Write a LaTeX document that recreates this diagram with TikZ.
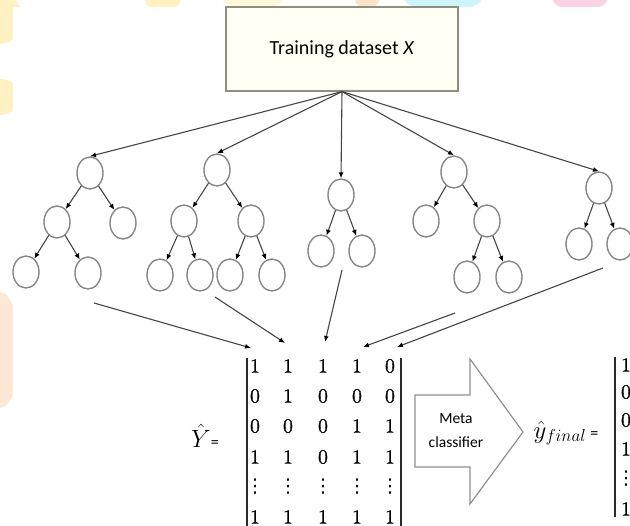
\documentclass[tikz,border=0pt]{standalone}
\usepackage{fontspec}
\newfontfamily\calib{Carlito}
\newfontfamily\digitfont{lmroman10-regular.otf}[FakeBold=0.8]
\newfontfamily\dotfont{DejaVu Sans}
\usetikzlibrary{shapes.geometric,arrows.meta}

\definecolor{circgray}{HTML}{878787}
\definecolor{edgegray}{HTML}{454545}
\definecolor{barcol}{HTML}{2A2A2A}
\definecolor{boxfill}{HTML}{FFFFF3}
\definecolor{boxdraw}{HTML}{8F8F80}
\definecolor{blockgray}{HTML}{909090}
\definecolor{blobyellow}{HTML}{FFF1C2}
\definecolor{blobpeach}{HTML}{FDE2CA}
\definecolor{blobcyan}{HTML}{CDF5FB}
\definecolor{blobpink}{HTML}{FAD3E7}

% vertical ellipsis used in the matrix columns
\newcommand\coldots{{\dotfont\fontsize{19}{19}\selectfont ⋮}}

\begin{document}
\begin{tikzpicture}[x=1pt,y=-1pt,
  treenode/.style={ellipse, draw=circgray, line width=1.4pt, fill=white,
    minimum width=26pt, minimum height=32pt, inner sep=0pt},
  arr/.style={draw=edgegray, line width=1.1pt,
    -{Latex[length=6pt,width=5pt,color=black]}},
  digit/.style={font=\digitfont\fontsize{20}{20}\selectfont, inner sep=0pt, anchor=center},
  bar/.style={draw=barcol, line width=2.4pt},
  databox/.style={draw=boxdraw, fill=boxfill, line width=1.2pt,
    minimum width=232pt, minimum height=84pt, inner sep=0pt,
    font=\calib\fontsize{20}{24}\selectfont},
  blockarrow/.style={draw=blockgray, fill=white, line width=1.2pt}]

\clip (0,0) rectangle (630,526);

% faint coloured blobs round the page edge
\fill[blobyellow] (0,18) ellipse (22 and 26);
\fill[blobyellow] (0,97) ellipse (20 and 18);
\fill[blobpeach!80] (0,350) ellipse (20 and 58);
\fill[blobyellow] (163,0) ellipse (18 and 10);
\fill[blobyellow!60] (253,0) ellipse (30 and 8);
\fill[blobpeach] (367,0) ellipse (12 and 8);
\fill[blobcyan] (443,0) ellipse (38 and 10);
\fill[blobpink] (580,0) ellipse (27 and 10);
\fill[white] (13,7) rectangle (630,526);

% training data
\node[databox] (box) at (342,49) {Training dataset \textit{X}};

% tree 1
\node[treenode] (t1r)  at (90,173) {};
\node[treenode] (t1a)  at (57,222) {};
\node[treenode] (t1b)  at (123,223) {};
\node[treenode] (t1aa) at (26,272) {};
\node[treenode] (t1ab) at (88,273) {};
% tree 2
\node[treenode] (t2r)  at (217,170) {};
\node[treenode] (t2a)  at (184,221) {};
\node[treenode] (t2b)  at (251,221) {};
\node[treenode] (t2aa) at (160,275) {};
\node[treenode] (t2ab) at (200,275) {};
\node[treenode] (t2ba) at (230,275) {};
\node[treenode] (t2bb) at (272,275) {};
% tree 3
\node[treenode] (t3r)  at (341,195) {};
\node[treenode] (t3a)  at (321,251) {};
\node[treenode] (t3b)  at (362,251) {};
% tree 4
\node[treenode] (t4r)  at (454,172) {};
\node[treenode] (t4a)  at (426,221) {};
\node[treenode] (t4b)  at (487,221) {};
\node[treenode] (t4ba) at (467,277) {};
\node[treenode] (t4bb) at (509,277) {};
% tree 5
\node[treenode] (t5r)  at (599,188) {};
\node[treenode] (t5a)  at (579,244) {};
\node[treenode] (t5b)  at (620,244) {};

% data to each tree
\foreach \t in {t1r,t2r,t3r,t4r,t5r}
  \draw[arr] (box.south) -- (\t.north);

% tree edges
\foreach \p/\c in {t1r/t1a,t1r/t1b,t1a/t1aa,t1a/t1ab,
                   t2r/t2a,t2r/t2b,t2a/t2aa,t2a/t2ab,t2b/t2ba,t2b/t2bb,
                   t3r/t3a,t3r/t3b,
                   t4r/t4a,t4r/t4b,t4b/t4ba,t4b/t4bb,
                   t5r/t5a,t5r/t5b}
  \draw[arr] (\p) -- (\c);

% prediction matrix of the base learners
\foreach \y/\va/\vb/\vc/\vd/\ve [count=\r] in
   {366/1/1/1/1/0, 396/0/1/0/0/0, 426/0/0/0/1/1, 457/1/1/0/1/1,
    487/\coldots/\coldots/\coldots/\coldots/\coldots, 517/1/1/1/1/1}{
  \node[digit] (m-\r-1) at (255,\y) {\va};
  \node[digit] (m-\r-2) at (288,\y) {\vb};
  \node[digit] (m-\r-3) at (323,\y) {\vc};
  \node[digit] (m-\r-4) at (357,\y) {\vd};
  \node[digit] (m-\r-5) at (390,\y) {\ve};
}
\draw[bar] (247,358) -- (247,530);
\draw[bar] (401,358) -- (401,530);

% tree outputs into the matrix columns
\coordinate (s1) at (94,303);  \coordinate (e1) at (251,348);
\coordinate (s2) at (215,297); \coordinate (e2) at (285,343);
\coordinate (s3) at (342,270); \coordinate (e3) at (325,342);
\coordinate (s4) at (455,313); \coordinate (e4) at (363,347);
\coordinate (s5) at (603,268); \coordinate (e5) at (397,347);
\foreach \i in {1,...,5}
  \draw[arr] (s\i) -- (e\i);

\node[font=\fontsize{24}{24}\selectfont, inner sep=0pt] (yhat) at (205,436)
  {$\hat{Y}${\calib\fontsize{16}{16}\selectfont =}};

% meta classifier
\draw[blockarrow] (415,395) -- (470,395) -- (470,359) -- (523,432)
  -- (470,504) -- (470,467) -- (415,467) -- cycle;
\node[font=\calib\fontsize{15.5}{24}\selectfont, align=center, inner sep=0pt]
  (meta) at (456,431) {Meta\\classifier};

\node[font=\fontsize{24}{24}\selectfont, inner sep=0pt] (yfinal) at (566,433)
  {$\hat{y}_{final}$\,{\calib\fontsize{16}{16}\selectfont =}};

% final prediction vector
\foreach \y/\v [count=\r] in {365/1, 392/0, 420/0, 449/1, 479/\coldots, 509/1}
  \node[digit] (f-\r) at (626,\y) {\v};
\draw[bar] (615,357) -- (615,517);

\end{tikzpicture}
\end{document}
